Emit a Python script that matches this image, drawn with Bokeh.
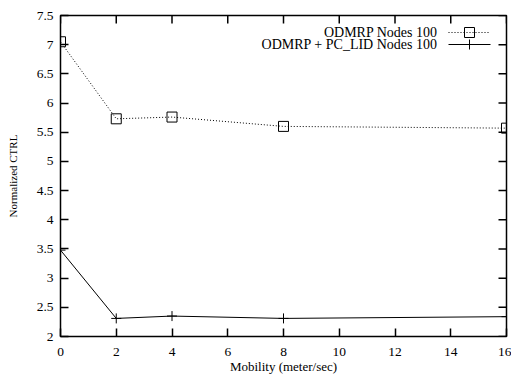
from bokeh.plotting import figure
from bokeh.models import FixedTicker, Range1d, Label
from bokeh.embed import file_html
from bokeh.resources import INLINE

# Mobility speeds (meter/sec) and normalized control overhead per protocol
mobility = [0, 2, 4, 8, 16]
odmrp = [7.05, 5.73, 5.76, 5.60, 5.57]
pc_lid = [3.48, 2.31, 2.35, 2.31, 2.34]

x_ticks = [0, 2, 4, 6, 8, 10, 12, 14, 16]
y_ticks = [2, 2.5, 3, 3.5, 4, 4.5, 5, 5.5, 6, 6.5, 7, 7.5]
y_tick_labels = ["2", "2.5", "3", "3.5", "4", "4.5", "5", "5.5", "6", "6.5", "7", "7.5"]

series_names = ["ODMRP Nodes 100", "ODMRP + PC_LID Nodes 100"]
x_title = "Mobility (meter/sec)"
y_title = "Normalized CTRL"

FONT = "Liberation Serif"
FW, FH = 446, 321
TICK = 8

p = figure(width=511, height=374, frame_width=FW, frame_height=FH,
           x_range=Range1d(0, 16), y_range=Range1d(2, 7.5),
           output_backend="svg", toolbar_location=None,
           min_border_left=60, min_border_right=5,
           min_border_top=15, min_border_bottom=38)
p.background_fill_color = "white"
p.border_fill_color = "white"
p.grid.visible = False
p.outline_line_color = "black"
p.outline_line_width = 1.5

# pixel-space ranges for the mirrored ticks and the key inside the frame
p.extra_x_ranges = {"px": Range1d(0, FW)}
p.extra_y_ranges = {"py": Range1d(0, FH)}


def style_axis(ax):
    ax.axis_line_color = None
    ax.major_tick_in = TICK
    ax.major_tick_out = 0
    ax.minor_tick_line_color = None
    ax.major_tick_line_width = 1.5
    ax.major_tick_line_color = "black"
    ax.major_label_text_font = FONT
    ax.major_label_text_font_size = "13.5px"
    ax.major_label_text_color = "black"
    ax.axis_label_text_font = FONT
    ax.axis_label_text_font_style = "normal"
    ax.axis_label_text_color = "black"


xa = p.xaxis[0]
xa.ticker = FixedTicker(ticks=x_ticks)
xa.axis_label = x_title
xa.major_label_standoff = 11
xa.axis_label_standoff = 0
style_axis(xa)
xa.axis_label_text_font_size = "13px"

ya = p.yaxis[0]
ya.ticker = FixedTicker(ticks=y_ticks)
ya.major_label_overrides = {t: s for t, s in zip(y_ticks, y_tick_labels)}
ya.axis_label = y_title
ya.major_label_standoff = 7
ya.axis_label_standoff = 15
style_axis(ya)
ya.axis_label_text_font_size = "11px"

# mirrored ticks along the top and right edges of the frame
p.segment(x0=x_ticks, y0=[FH] * len(x_ticks), x1=x_ticks,
          y1=[FH - TICK] * len(x_ticks), y_range_name="py",
          line_color="black", line_width=1.5)
p.segment(x0=[FW] * len(y_ticks), y0=y_ticks, x1=[FW - TICK] * len(y_ticks),
          y1=y_ticks, x_range_name="px",
          line_color="black", line_width=1.5)

# data series
p.line(mobility, odmrp, line_color="black", line_width=1, line_dash="1 2")
p.scatter(mobility, odmrp, marker="square", size=10, fill_color=None,
          line_color="black", line_width=1)
p.line(mobility, pc_lid, line_color="black", line_width=1)
p.scatter(mobility, pc_lid, marker="cross", size=10, line_color="black",
          line_width=1)

# key: label on the left, line sample on the right
key_rows = [FH - 17, FH - 29]
key_styles = [("1 2", "square"), ("solid", "cross")]
for name, yy, (dash, mk) in zip(series_names, key_rows, key_styles):
    p.add_layout(Label(x=377, y=yy, x_units="screen", y_units="screen",
                       text=name, text_align="right", text_baseline="middle",
                       text_font=FONT, text_font_size="14px",
                       text_color="black"))
    p.line([388, 430], [yy, yy], x_range_name="px", y_range_name="py",
           line_color="black", line_width=1, line_dash=dash)
    p.scatter([409], [yy], x_range_name="px", y_range_name="py", marker=mk,
              size=10, fill_color=None, line_color="black", line_width=1)

open("out.html", "w").write(file_html(p, INLINE))
